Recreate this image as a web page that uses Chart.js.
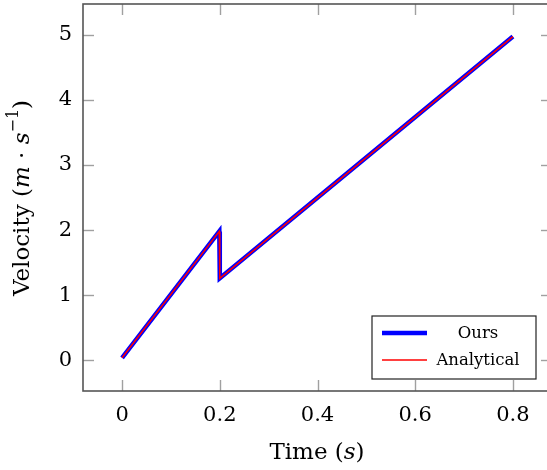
<!DOCTYPE html>
<html><head><meta charset="utf-8">
<script src="https://cdn.jsdelivr.net/npm/chart.js@4"></script>
<style>
html,body{margin:0;padding:0;background:#fff;overflow:hidden;width:547px;height:470px}
#wrap{width:553px;height:470px;position:relative}
</style></head><body>
<div id="wrap"><canvas id="c" width="553" height="470"></canvas></div>
<script>
const timeValues = [0.0, 0.199, 0.2, 0.8];
const oursVelocity = [0.04, 1.98, 1.26, 4.97];
const analyticalVelocity = [0.04, 1.98, 1.26, 4.97];
const xTickValues = [0, 0.2, 0.4, 0.6, 0.8];
const yTickValues = [0, 1, 2, 3, 4, 5];
const seriesNames = ['Ours', 'Analytical'];

const serif = '"DejaVu Serif", "Liberation Serif", serif';

const frame = {
  id: 'frame',
  afterDraw(chart) {
    const ctx = chart.ctx, a = chart.chartArea;
    const xs = chart.scales.x, ys = chart.scales.y;
    ctx.save();
    ctx.strokeStyle = '#a0a0a0'; ctx.lineWidth = 1.4;
    const tl = 11;
    xTickValues.forEach(v => {
      const px = Math.round(xs.getPixelForValue(v)) + 0.5;
      ctx.beginPath(); ctx.moveTo(px, a.bottom); ctx.lineTo(px, a.bottom - tl); ctx.stroke();
      ctx.beginPath(); ctx.moveTo(px, a.top); ctx.lineTo(px, a.top + tl); ctx.stroke();
    });
    yTickValues.forEach(v => {
      const py = Math.round(ys.getPixelForValue(v)) + 0.5;
      ctx.beginPath(); ctx.moveTo(a.left, py); ctx.lineTo(a.left + tl, py); ctx.stroke();
      ctx.beginPath(); ctx.moveTo(a.right, py); ctx.lineTo(a.right - tl, py); ctx.stroke();
    });
    ctx.strokeStyle = '#555'; ctx.lineWidth = 1.6;
    ctx.strokeRect(a.left, a.top, a.right - a.left, a.bottom - a.top);
    // legend
    const lx = 372, ly = 316, lw = 164, lh = 63;
    ctx.fillStyle = '#fff'; ctx.fillRect(lx, ly, lw, lh);
    ctx.strokeStyle = '#222'; ctx.lineWidth = 1.2; ctx.strokeRect(lx, ly, lw, lh);
    const rows = [333, 360];
    [0, 1].forEach((di, i) => {
      const ds = chart.data.datasets[di];
      ctx.strokeStyle = ds.borderColor; ctx.lineWidth = ds.borderWidth;
      ctx.beginPath(); ctx.moveTo(382, rows[i]); ctx.lineTo(427, rows[i]); ctx.stroke();
      ctx.fillStyle = '#000'; ctx.font = '16.5px ' + serif;
      ctx.textAlign = 'center'; ctx.textBaseline = 'middle';
      ctx.fillText(ds.label, 478, rows[i] + 1);
    });
    function drawMixed(parts, cx, cy) {
      let w = 0;
      parts.forEach(p => { ctx.font = p.f; w += ctx.measureText(p.t).width; });
      let x = cx - w / 2;
      ctx.textAlign = 'left'; ctx.textBaseline = 'middle'; ctx.fillStyle = '#000';
      parts.forEach(p => {
        ctx.font = p.f;
        ctx.fillText(p.t, x, cy + (p.dy || 0));
        x += ctx.measureText(p.t).width;
      });
    }
    const R = '23px ' + serif, I = 'italic 23px ' + serif, S = '16px ' + serif;
    drawMixed([{t:'Time (', f:R}, {t:'s', f:I}, {t:')', f:R}], 317, 453);
    ctx.save();
    ctx.translate(23, 198); ctx.rotate(-Math.PI / 2);
    drawMixed([{t:'Velocity (', f:R}, {t:'m', f:I}, {t:' · ', f:R}, {t:'s', f:I}, {t:'−1', f:S, dy:-9}, {t:')', f:R}], 0, 0);
    ctx.restore();
    ctx.restore();
  }
};

new Chart(document.getElementById('c'), {
  type: 'line',
  data: {
    datasets: [
      { label: seriesNames[0], data: timeValues.map((t, i) => ({x: t, y: oursVelocity[i]})),
        borderColor: '#0000ff', borderWidth: 4.5, pointRadius: 0, fill: false, tension: 0,
        borderJoinStyle: 'miter', order: 2 },
      { label: seriesNames[1], data: timeValues.map((t, i) => ({x: t, y: analyticalVelocity[i]})),
        borderColor: '#ff0000', borderWidth: 1.5, pointRadius: 0, fill: false, tension: 0, order: 1 }
    ]
  },
  options: {
    responsive: false, animation: false,
    layout: { padding: { top: 4, right: 1, left: 0, bottom: 0 } },
    plugins: { legend: { display: false }, tooltip: { enabled: false } },
    scales: {
      x: {
        type: 'linear', min: -0.08, max: 0.88,
        grid: { display: false, drawTicks: false }, border: { display: false },
        afterBuildTicks: s => { s.ticks = xTickValues.map(v => ({value: v})); },
        afterFit: s => { s.height = 79; s.paddingLeft = 0; s.paddingRight = 0; },
        ticks: { padding: 12, color: '#000', font: { family: serif, size: 21 },
          callback: v => String(v), maxRotation: 0 }
      },
      y: {
        type: 'linear', min: -0.47, max: 5.47,
        grid: { display: false, drawTicks: false }, border: { display: false },
        afterBuildTicks: s => { s.ticks = yTickValues.map(v => ({value: v})); },
        afterFit: s => { s.width = 83; s.paddingTop = 0; s.paddingBottom = 0; },
        ticks: { padding: 11, color: '#000', font: { family: serif, size: 21 },
          callback: v => String(v) }
      }
    }
  },
  plugins: [frame]
});
</script>
</body></html>
